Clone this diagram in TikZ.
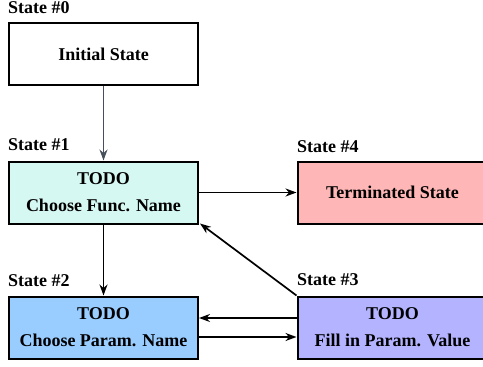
\documentclass[tikz,border=0pt]{standalone}
\usepackage{fontspec}
\setmainfont{Liberation Serif}
\usetikzlibrary{arrows.meta}
\definecolor{cyanfill}{HTML}{D6F8F3}
\definecolor{redfill}{HTML}{FFB6B6}
\definecolor{bluefill}{HTML}{99CCFF}
\definecolor{violetfill}{HTML}{B3B3FF}
\definecolor{slate}{HTML}{474E5C}
\tikzset{
  statebox/.style={draw=black, line width=2pt, minimum width=189pt, minimum height=62pt, inner sep=0pt, anchor=north west, align=center, font=\fontsize{18}{27}\selectfont\bfseries},
  statelabel/.style={anchor=base west, inner sep=0pt, font=\fontsize{18}{22}\selectfont\bfseries},
  conn/.style={line width=1.7pt, -{Stealth[length=11pt,width=8pt]}},
}
\begin{document}
\begin{tikzpicture}[x=1pt,y=-1pt]
\useasboundingbox (0,0) rectangle (483,367);
\clip (0,0) rectangle (483,367);
\node[statelabel] (l0) at (8,13) {State \#0};
\node[statebox, fill=white] (s0) at (8,22) {Initial State};
\node[statelabel] (l1) at (8,150) {State \#1};
\node[statebox, fill=cyanfill] (s1) at (8,160.5) {TODO\\Choose Func. Name};
\node[statelabel] (l4) at (297,152) {State \#4};
\node[statebox, fill=redfill, minimum width=190pt] (s4) at (296.5,160.5) {Terminated State};
\node[statelabel] (l2) at (8,286) {State \#2};
\node[statebox, fill=bluefill] (s2) at (8,295.5) {TODO\\Choose Param. Name};
\node[statelabel] (l3) at (297,285) {State \#3};
\node[statebox, fill=violetfill, minimum width=190pt] (s3) at (296.5,295.5) {TODO\\Fill in Param. Value};
\draw[conn, draw=slate, fill=slate] (s0.south) -- (s1.north);
\draw[conn] (s1.east) -- (s4.west);
\draw[conn] (s1.south) -- (s2.north);
\draw[conn] (s3.north west) -- ([xshift=1pt,yshift=1pt]s1.south east);
\draw[conn] ([yshift=9.5pt]s3.west) -- ([yshift=9.5pt]s2.east);
\draw[conn] ([yshift=-9.5pt]s2.east) -- ([yshift=-9.5pt]s3.west);
\end{tikzpicture}
\end{document}
